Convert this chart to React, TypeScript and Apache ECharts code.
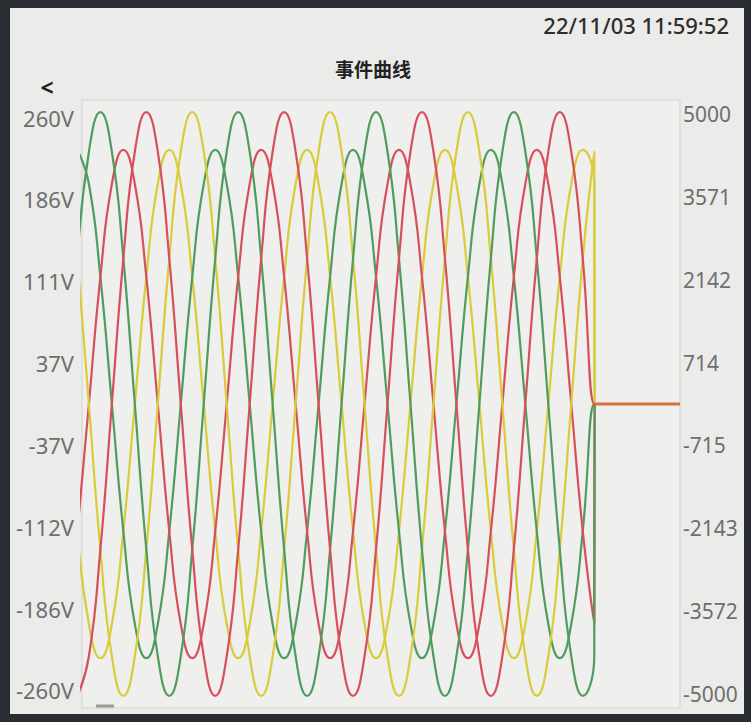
import React, { useEffect, useRef } from "react";
import * as echarts from "echarts";

// Sample spacing along the time axis, in electrical degrees
const sampleStepDeg = 30;
const timeAxisMin = 12;
const timeAxisMax = 1574;
const dropEnd = 1353;

// Voltage waveforms (left axis, V)
const voltageGreen = [
  132, 229, 265, 229, 132, 0, -132, -229, -265, -229, -132, 0,
  132, 229, 265, 229, 132, 0, -132, -229, -265, -229, -132, 0,
  132, 229, 265, 229, 132, 0, -132, -229, -265, -229, -132, 0,
  132, 229, 265, 229, 132, 0, -132, -229, -265, -229,
];
const voltageRed = [
  -265, -229, -132, 0, 132, 229, 265, 229, 132, 0, -132, -229,
  -265, -229, -132, 0, 132, 229, 265, 229, 132, 0, -132, -229,
  -265, -229, -132, 0, 132, 229, 265, 229, 132, 0, -132, -229,
  -265, -229, -132, 0, 132, 229, 265, 229, 132, 0,
];
const voltageYellow = [
  132, 0, -132, -229, -265, -229, -132, 0, 132, 229, 265, 229,
  132, 0, -132, -229, -265, -229, -132, 0, 132, 229, 265, 229,
  132, 0, -132, -229, -265, -229, -132, 0, 132, 229, 265, 229,
  132, 0, -132, -229, -265, -229, -132, 0, 132, 229,
];

// Current waveforms (right axis)
const currentGreen = [
  4380, 3793, 2190, 0, -2190, -3793, -4380, -3793, -2190, 0, 2190, 3793,
  4380, 3793, 2190, 0, -2190, -3793, -4380, -3793, -2190, 0, 2190, 3793,
  4380, 3793, 2190, 0, -2190, -3793, -4380, -3793, -2190, 0, 2190, 3793,
  4380, 3793, 2190, 0, -2190, -3793, -4380, -3793, -2190, 0,
];
const currentRed = [
  -2190, 0, 2190, 3793, 4380, 3793, 2190, 0, -2190, -3793, -4380, -3793,
  -2190, 0, 2190, 3793, 4380, 3793, 2190, 0, -2190, -3793, -4380, -3793,
  -2190, 0, 2190, 3793, 4380, 3793, 2190, 0, -2190, -3793, -4380, -3793,
  -2190, 0, 2190, 3793, 4380, 3793, 2190, 0, -2190, -3793,
];
const currentYellow = [
  -2190, -3793, -4380, -3793, -2190, 0, 2190, 3793, 4380, 3793, 2190, 0,
  -2190, -3793, -4380, -3793, -2190, 0, 2190, 3793, 4380, 3793, 2190, 0,
  -2190, -3793, -4380, -3793, -2190, 0, 2190, 3793, 4380, 3793, 2190, 0,
  -2190, -3793, -4380, -3793, -2190, 0, 2190, 3793, 4380, 3793,
];

const leftTickValues = [260, 185.7, 111.4, 37.1, -37.1, -111.4, -185.7, -260];
const leftTickLabels = ["260V", "186V", "111V", "37V", "-37V", "-112V", "-186V", "-260V"];
const rightTickValues = [5000, 3571, 2142, 714, -715, -2143, -3572, -5000];
const rightTickLabels = ["5000", "3571", "2142", "714", "-715", "-2143", "-3572", "-5000"];

const titleText = "事件曲线";
const dateText = "22/11/03 11:59:52";

const GREEN = "#4f9c5e";
const RED = "#d64f5c";
const YELLOW = "#d8cc3a";
const ORANGE = "#d8703a";

function toPoints(values: number[]) {
  const pts: (number[])[] = values.map((v, i) => [i * sampleStepDeg, v]);
  const lastX = (values.length - 1) * sampleStepDeg;
  pts.push([lastX + 1, 0], [dropEnd, 0], [timeAxisMax, 0]);
  return pts;
}

function lookup(values: number[], labels: string[], v: number) {
  for (let i = 0; i < values.length; i++) {
    if (Math.abs(values[i] - v) < 0.01) return labels[i];
  }
  return "";
}

export default function App() {
  const ref = useRef<HTMLDivElement>(null);
  useEffect(() => {
    if (!ref.current) return;
    const chart = echarts.init(ref.current, undefined, { renderer: "svg" });
    const lastX = (voltageGreen.length - 1) * sampleStepDeg;
    const line = (name: string, data: number[], color: string, yAxisIndex: number) => ({
      name,
      type: "line",
      yAxisIndex,
      data: toPoints(data),
      smooth: 0.5,
      showSymbol: false,
      symbol: "none",
      lineStyle: { color, width: 2.2 },
      itemStyle: { color },
      clip: true,
    });
    chart.setOption({
      animation: false,
      backgroundColor: "#2a2c33",
      graphic: [
        {
          type: "rect",
          shape: { x: 10, y: 8, width: 734, height: 706 },
          style: { fill: "#ebebe9" },
          z: -10,
        },
        {
          type: "text",
          x: 729,
          y: 25,
          style: {
            text: dateText,
            fill: "#2e2e2e",
            font: '500 22px "Noto Sans"',
            textAlign: "right",
            textVerticalAlign: "middle",
          },
        },
        {
          type: "text",
          x: 373,
          y: 68,
          style: {
            text: titleText,
            fill: "#222222",
            font: 'bold 19px "Noto Sans CJK SC"',
            textAlign: "center",
            textVerticalAlign: "middle",
          },
        },
        {
          type: "text",
          x: 47,
          y: 87,
          style: {
            text: "<",
            fill: "#222222",
            font: 'bold 23px "Noto Sans"',
            textAlign: "center",
            textVerticalAlign: "middle",
          },
        },
        {
          type: "line",
          shape: { x1: 96, y1: 706, x2: 114, y2: 706 },
          style: { stroke: "#9a9a9a", lineWidth: 3 },
        },
      ],
      grid: {
        left: 82,
        right: 71,
        top: 100,
        bottom: 14,
        show: true,
        borderColor: "#d2d2d0",
        borderWidth: 1,
        backgroundColor: "#efefed",
      },
      xAxis: {
        type: "value",
        min: timeAxisMin,
        max: timeAxisMax,
        show: false,
      },
      yAxis: [
        {
          type: "value",
          min: -276,
          max: 276,
          position: "left",
          axisLine: { show: false },
          axisTick: { show: false },
          splitLine: { show: false },
          axisLabel: {
            customValues: leftTickValues,
            formatter: (v: number) => lookup(leftTickValues, leftTickLabels, v),
            color: "#6e6e6e",
            fontSize: 22,
            fontFamily: "Noto Sans",
            margin: 8,
          },
        },
        {
          type: "value",
          min: -5240,
          max: 5240,
          position: "right",
          axisLine: { show: false },
          axisTick: { show: false },
          splitLine: { show: false },
          axisLabel: {
            customValues: rightTickValues,
            formatter: (v: number) => lookup(rightTickValues, rightTickLabels, v),
            color: "#6e6e6e",
            fontSize: 21,
            fontFamily: "Noto Sans",
            margin: 3,
          },
        },
      ],
      series: [
        line("Ia", currentYellow, YELLOW, 1),
        line("Ib", currentGreen, GREEN, 1),
        line("Ic", currentRed, RED, 1),
        line("Ua", voltageYellow, YELLOW, 0),
        line("Ub", voltageGreen, GREEN, 0),
        line("Uc", voltageRed, RED, 0),
        {
          name: "tail",
          type: "line",
          yAxisIndex: 0,
          data: [
            [lastX + 1, 0],
            [timeAxisMax, 0],
          ],
          showSymbol: false,
          symbol: "none",
          lineStyle: { color: ORANGE, width: 3 },
          z: 5,
        },
      ],
    });
    return () => chart.dispose();
  }, []);
  return (
    <div
      ref={ref}
      style={{ position: "absolute", left: 0, top: 0, width: 751, height: 722 }}
    />
  );
}
